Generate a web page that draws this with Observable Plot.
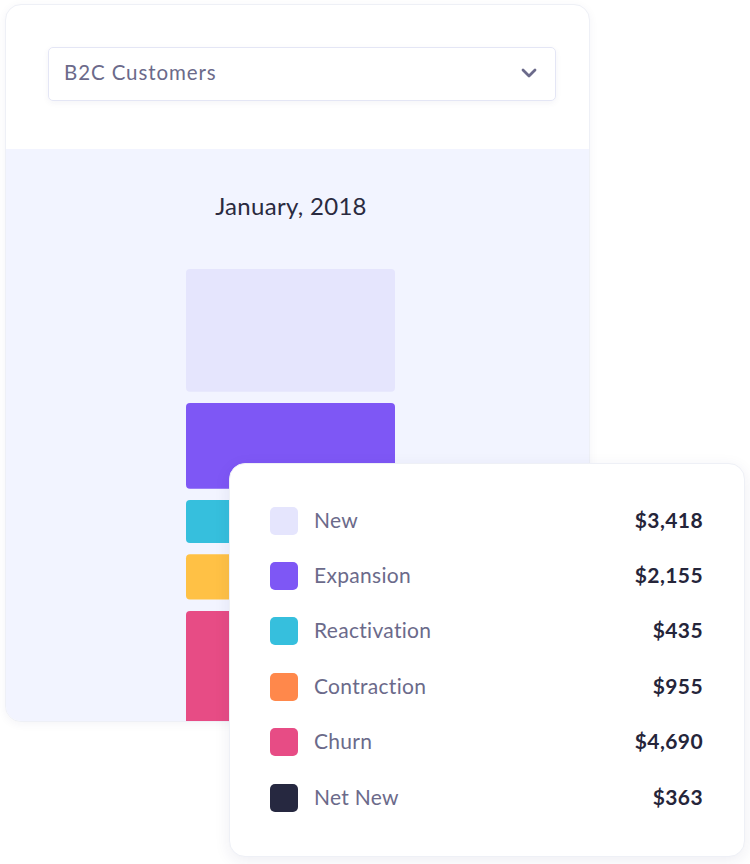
<!DOCTYPE html>
<html>
<head>
<meta charset="utf-8">
<script src="https://cdn.jsdelivr.net/npm/d3@7"></script>
<script src="https://cdn.jsdelivr.net/npm/@observablehq/plot@0.6"></script>
<style>
  html, body { margin: 0; padding: 0; background: #ffffff; }
  body { width: 750px; height: 864px; position: relative; overflow: hidden; font-family: Lato, "Open Sans", sans-serif; }
  .card { position: absolute; left: 5px; top: 4px; width: 585px; height: 718px; box-sizing: border-box;
          background: #fff; border: 1px solid #eef0f6; border-radius: 16px; overflow: hidden;
          box-shadow: 0 2px 10px rgba(40,40,100,0.05); }
  .dropdown { position: absolute; left: 42px; top: 42px; width: 508px; height: 54px; box-sizing: border-box;
              border: 1px solid #e4e6f5; border-radius: 5px; background: #fff;
              box-shadow: 0 2px 6px rgba(40,40,100,0.05); }
  .dropdown .label { position: absolute; left: 15px; top: 12px; font-size: 20.5px; color: #6b6a8a; letter-spacing: 0.9px; }
  .dropdown svg.chev { position: absolute; left: 472px; top: 19px; }
  .panel { position: absolute; left: 0; top: 144px; width: 585px; height: 574px; background: #f2f4ff; }
  .panel .title { position: absolute; left: 0; width: 570px; text-align: center; top: 42px; font-size: 24px; color: #2a2a40; letter-spacing: 0.3px; }
  .panel .plot { position: absolute; left: 0; top: 0; }
  .legend { position: absolute; left: 229px; top: 463px; width: 516px; height: 394px; box-sizing: border-box;
            background: #fff; border: 1px solid #eef0f6; border-radius: 16px;
            box-shadow: 0 4px 16px rgba(40,40,100,0.08); }
  .row { position: absolute; left: 0; width: 100%; height: 28px; }
  .row .sw { position: absolute; left: 40px; top: 0; width: 28px; height: 28px; border-radius: 5px; }
  .row .name { position: absolute; left: 84px; top: 0px; font-size: 21px; color: #6b6a8a; letter-spacing: 0.3px; }
  .row .val { position: absolute; right: 41px; top: 0px; font-size: 21px; font-weight: 700; color: #25253a; letter-spacing: 0.4px; }
</style>
</head>
<body>
<div class="card">
  <div class="dropdown">
    <div class="label" id="segment"></div>
    <svg class="chev" width="16" height="12" viewBox="0 0 16 12"><polyline points="2,3 8,9 14,3" fill="none" stroke="#6b6a8a" stroke-width="2.8" stroke-linecap="round" stroke-linejoin="round"/></svg>
  </div>
  <div class="panel" id="panel">
    <div class="title" id="title"></div>
  </div>
</div>
<div class="legend" id="legend"></div>
<script>
const segmentName = "B2C Customers";
const month = "January, 2018";
const categories = ["New", "Expansion", "Reactivation", "Contraction", "Churn", "Net New"];
const amounts = [3418, 2155, 435, 955, 4690, 363];
const barCategories = ["New", "Expansion", "Reactivation", "Contraction", "Churn"];
const barColors = ["#e5e5fd", "#7e57f5", "#36bfdd", "#ffc145", "#e74c85"];
const swatchColors = ["#e5e5fd", "#7e57f5", "#36bfdd", "#ff884b", "#e74c85", "#262840"];

document.getElementById("segment").textContent = segmentName;
document.getElementById("title").textContent = month;

// display magnitude (compressed, with a minimum) used to size the stacked blocks
const exponent = 0.78, minMagnitude = 0.35, gap = 0.092;
const magnitude = v => Math.max(Math.pow(v / amounts[0], exponent), minMagnitude);
let acc = 0;
const bars = barCategories.map((c, i) => {
  const v = amounts[categories.indexOf(c)];
  const y1 = acc, y2 = acc + magnitude(v);
  acc = y2 + gap;
  return {category: c, value: v, y1, y2, color: barColors[i]};
});
const stackTotal = acc - gap;
const pxPerUnit = 122.7;
const plotTop = 121;

const chart = Plot.plot({
  width: 585,
  height: Math.round(plotTop + stackTotal * pxPerUnit),
  marginTop: plotTop, marginBottom: 0, marginLeft: 180, marginRight: 196,
  style: {background: "transparent", overflow: "visible"},
  x: {domain: [month], padding: 0, axis: null},
  y: {domain: [0, stackTotal], reverse: true, axis: null},
  color: {type: "identity"},
  marks: [
    Plot.barY(bars, {x: () => month, y1: "y1", y2: "y2", fill: "color", rx: 4, inset: 0})
  ]
});
chart.classList.add("plot");
chart.style.top = "-1px";
document.getElementById("panel").appendChild(chart);

const fmt = d3.format("$,");
const legend = document.getElementById("legend");
categories.forEach((c, i) => {
  const row = document.createElement("div");
  row.className = "row";
  row.style.top = (42.5 + i * 55.4) + "px";
  row.innerHTML = `<div class="sw" style="background:${swatchColors[i]}"></div><div class="name"></div><div class="val"></div>`;
  row.querySelector(".name").textContent = c;
  row.querySelector(".val").textContent = fmt(amounts[i]);
  legend.appendChild(row);
});
</script>
</body>
</html>
